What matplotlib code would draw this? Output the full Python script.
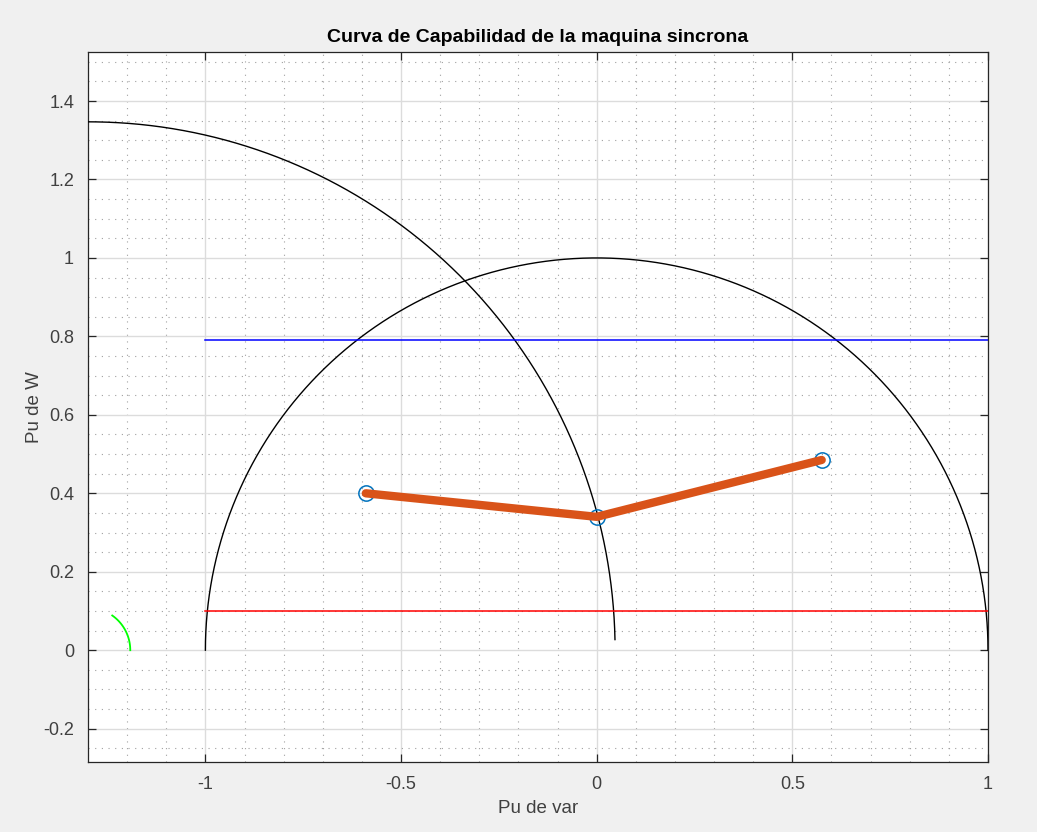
import numpy as np
import matplotlib.pyplot as plt
from matplotlib.ticker import MultipleLocator

plt.rcParams['font.family'] = ['Liberation Sans', 'DejaVu Sans']

# limites de la maquina (pu)
centro_campo = -1.3      # centro del limite de corriente de campo (Q)
radio_campo = 1.347      # radio del limite de corriente de campo
ang_campo = (1.15, 90.0)  # grados
radio_armadura = 1.0     # limite de corriente de armadura
p_max = 0.79             # potencia maxima de la turbina
p_min = 0.10             # potencia minima
radio_delta = 0.108      # arco del angulo de carga
ang_delta = (0.0, 55.0)

# puntos de operacion
q_op = [-0.59, 0.0, 0.575]
p_op = [0.40, 0.34, 0.485]

fig = plt.figure(figsize=(10.37, 8.32), dpi=100, facecolor='#f0f0f0')
ax = fig.add_axes([88 / 1037, 70 / 832, 900 / 1037, 710 / 832])

# limite de campo
th = np.radians(np.linspace(ang_campo[0], ang_campo[1], 300))
ax.plot(centro_campo + radio_campo * np.cos(th), radio_campo * np.sin(th),
        color='k', lw=1.0, zorder=3)

# limite de armadura
th = np.linspace(0, np.pi, 400)
ax.plot(radio_armadura * np.cos(th), radio_armadura * np.sin(th),
        color='k', lw=1.0, zorder=3)

# limites de potencia activa
ax.plot([-radio_armadura, radio_armadura], [p_max, p_max], color='#0000ff', lw=1.1, zorder=3)
ax.plot([-radio_armadura, radio_armadura], [p_min, p_min], color='#ff0000', lw=1.1, zorder=3)

# angulo de carga
th = np.radians(np.linspace(ang_delta[0], ang_delta[1], 50))
ax.plot(centro_campo + radio_delta * np.cos(th), radio_delta * np.sin(th),
        color='#00ff00', lw=1.3, zorder=3)

# puntos de operacion
ax.plot(q_op, p_op, linestyle='none', marker='o', markersize=11,
        markerfacecolor='none', markeredgecolor='#0072bd', markeredgewidth=1.1, zorder=4)
ax.plot(q_op, p_op, color='#d95319', lw=6, solid_capstyle='round', zorder=5)

ax.set_xlim(-1.3, 1.0)
ax.set_ylim(-0.285, 1.525)
ax.xaxis.set_major_locator(MultipleLocator(0.5))
ax.xaxis.set_minor_locator(MultipleLocator(0.1))
ax.yaxis.set_major_locator(MultipleLocator(0.2))
ax.yaxis.set_minor_locator(MultipleLocator(0.05))
ax.xaxis.set_major_formatter(plt.FuncFormatter(lambda v, p: f'{v:g}'))
ax.yaxis.set_major_formatter(plt.FuncFormatter(lambda v, p: f'{v:g}'))

ax.grid(True, which='major', color='#dcdcdc', lw=1.0, zorder=0)
ax.grid(True, which='minor', color='#a0a0a0', lw=0.8, linestyle=(0, (1, 5)), zorder=0)
ax.set_axisbelow(True)

ax.tick_params(which='major', direction='in', length=6, width=0.9, color='#262626',
               labelcolor='#404040', labelsize=13, top=True, right=True, pad=10)
ax.tick_params(which='minor', length=0, top=True, right=True)
for s in ax.spines.values():
    s.set_color('#262626')
    s.set_linewidth(0.9)

ax.set_title('Curva de Capabilidad de la maquina sincrona', fontsize=14,
             fontweight='bold', color='k', pad=7)
ax.set_xlabel('Pu de var', fontsize=13.5, color='#404040', labelpad=5)
ax.set_ylabel('Pu de W', fontsize=13.5, color='#404040', labelpad=0)

fig.savefig('out.png', dpi=100, facecolor=fig.get_facecolor())
